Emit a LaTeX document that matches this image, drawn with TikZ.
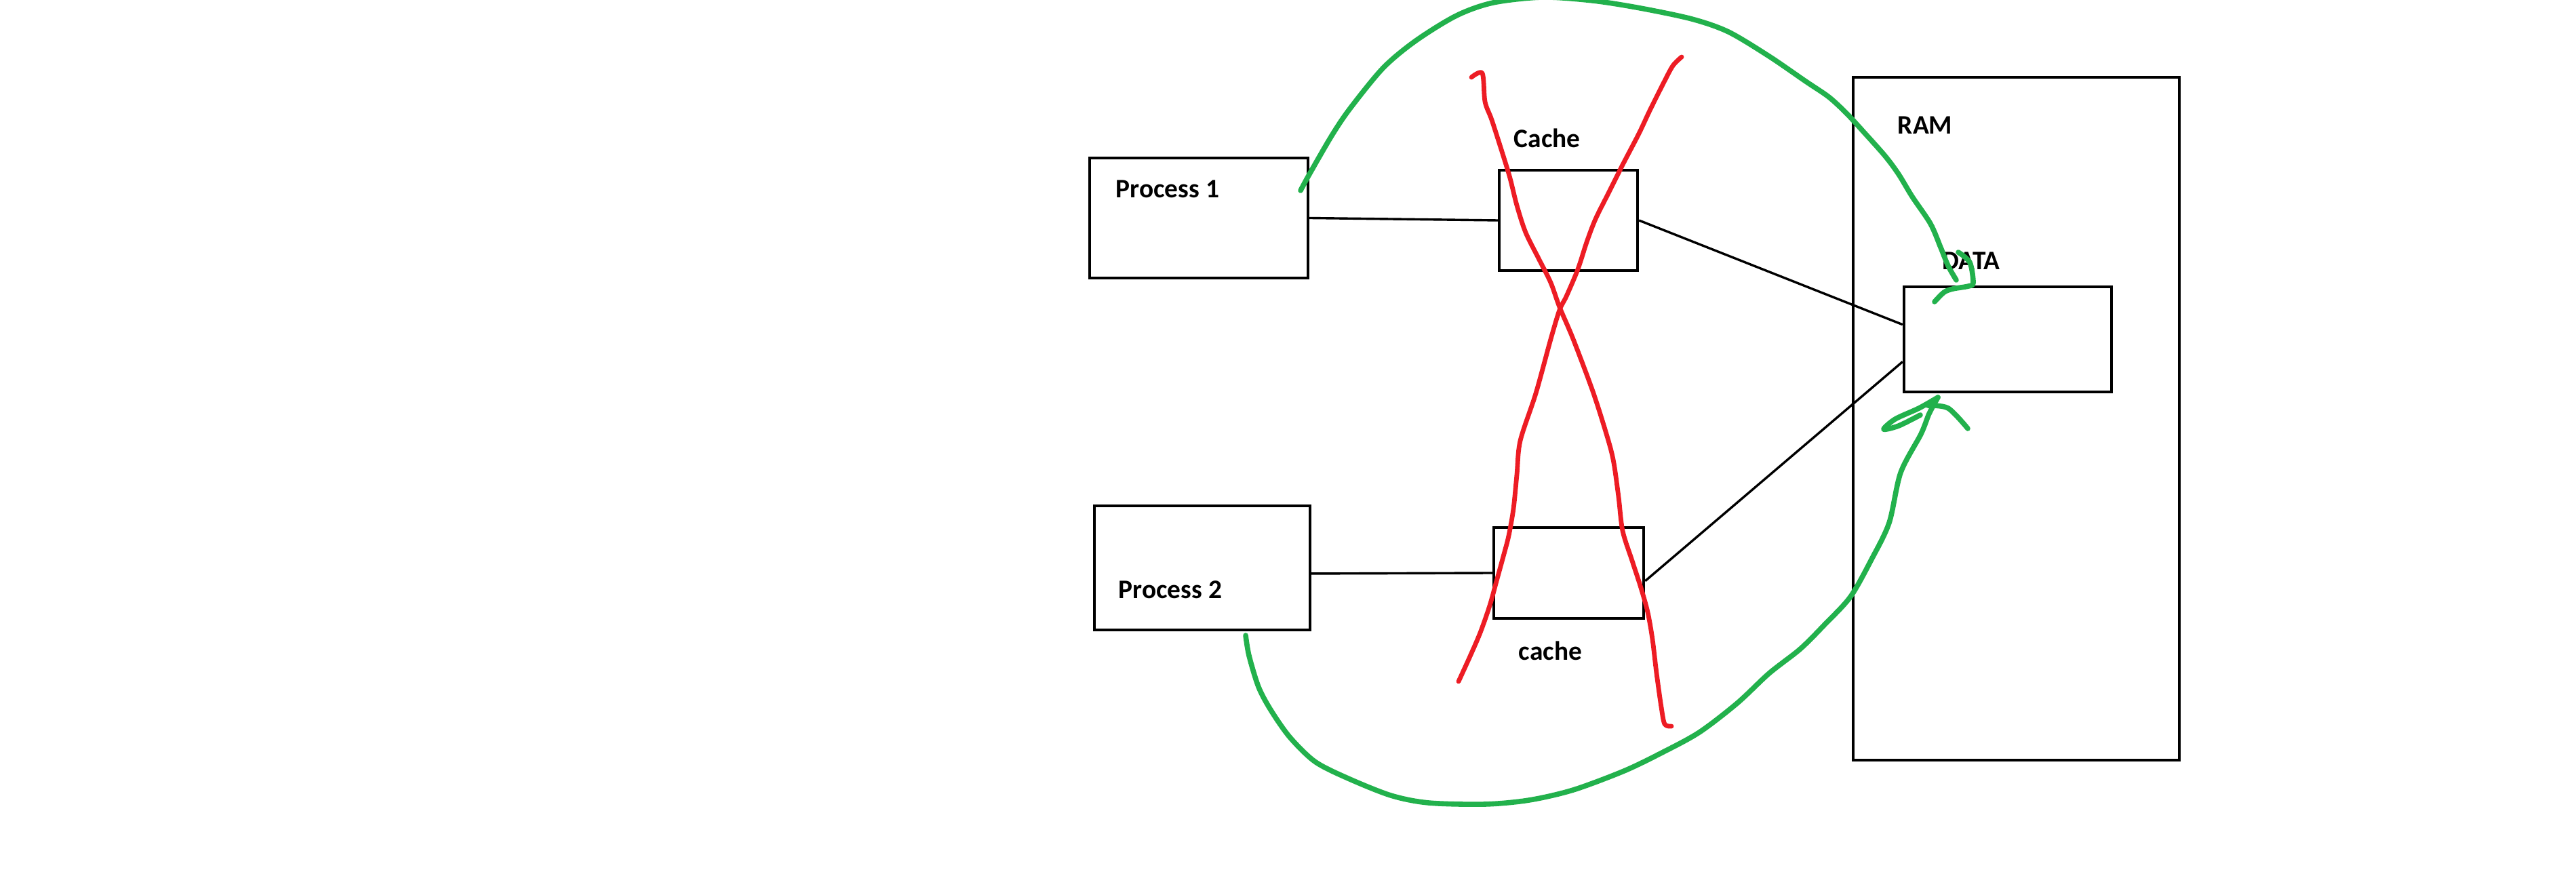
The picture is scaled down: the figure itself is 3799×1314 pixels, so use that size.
\documentclass[tikz,border=0pt]{standalone}
\usepackage{fontspec}
\setmainfont{Carlito}
\definecolor{inkgreen}{HTML}{22B14C}
\definecolor{inkred}{HTML}{ED1C24}
\begin{document}
\begin{tikzpicture}[x=0.25pt,y=-0.25pt,
  box/.style={draw=black, line width=1.1pt, rectangle, inner sep=0pt},
  lbl/.style={font=\bfseries\fontsize{9.85}{12}\selectfont, inner sep=0pt, anchor=base west},
  conn/.style={draw=black, line width=0.85pt},
  cross/.style={draw=inkred, line width=1.7pt, line cap=round, line join=round},
  stroke/.style={draw=inkgreen, line width=1.9pt, line cap=round, line join=round}]
\clip (0,0) rectangle (3799,1314);
\fill[white] (0,0) rectangle (3799,1314);
% boxes
\node[box, minimum width=80.5pt, minimum height=44.25pt] (p1) at (1768,321.5) {};
\node[box, minimum width=79.5pt, minimum height=45.75pt] (p2) at (1773,837.5) {};
\node[box, minimum width=51pt, minimum height=37pt] (c1) at (2313,325) {};
\node[box, minimum width=55.25pt, minimum height=33.5pt] (c2) at (2313.5,845) {};
\node[box, minimum width=120.25pt, minimum height=251.75pt] (ram) at (2973.5,617.5) {};
\node[box, minimum width=76.5pt, minimum height=38.75pt] (data) at (2961,500.5) {};
% labels
\node[lbl] (tp1) at (1645,292) {Process 1};
\node[lbl] (tp2) at (1649,882) {Process 2};
\node[lbl] (tc1) at (2232,218) {Cache};
\node[lbl] (tc2) at (2239,973) {cache};
\node[lbl] (tram) at (2798,198) {RAM};
\node[lbl] (tdata) at (2864,398) {DATA};
% connectors
\draw[conn] (p1.east) -- (c1.west);
\draw[conn] (p2.-3) -- (c2.west);
\draw[conn] (c1.east) -- (data.172);
\draw[conn] (c2.-6) -- (data.192);
% red cross
\draw[cross] plot[smooth, tension=0.5] coordinates {(2170,114) (2186,108) (2190,150) (2200,177) (2217,230) (2227,263) (2237,303) (2250,343) (2270,383) (2287,417) (2300,453) (2320,500) (2350,580) (2372,650) (2380,683) (2387,733) (2393,783) (2407,827) (2420,867) (2430,903) (2437,943) (2443,993) (2450,1043) (2455,1068) (2465,1071)};
\draw[cross] plot[smooth, tension=0.5] coordinates {(2480,84) (2467,97) (2453,123) (2433,163) (2417,197) (2393,243) (2373,283) (2353,323) (2340,357) (2327,397) (2310,437) (2300,457) (2287,500) (2265,580) (2242,650) (2237,700) (2232,750) (2225,790) (2218,817) (2207,857) (2197,893) (2183,933) (2167,970) (2151,1005)};
% green strokes
\draw[stroke] plot[smooth, tension=0.5] coordinates {(1918,281) (1931,257) (1964,200) (1991,160) (2040,100) (2088,60) (2148,23) (2202,4) (2275,-4) (2349,1) (2419,12) (2495,28) (2549,47) (2609,83) (2663,120) (2697,143) (2723,167) (2747,193) (2780,230) (2800,257) (2820,290) (2847,330) (2862,365) (2873,392) (2885,413)};
\draw[stroke] plot[smooth, tension=0.5] coordinates {(2888,372) (2905,387) (2910,417) (2903,422) (2880,426) (2867,431) (2853,445)};
\draw[stroke] plot[smooth, tension=0.5] coordinates {(1837,937) (1842,967) (1856,1013) (1874,1047) (1902,1087) (1939,1123) (1986,1147) (2051,1173) (2107,1184) (2190,1186) (2255,1180) (2320,1165) (2395,1137) (2451,1110) (2506,1080) (2562,1037) (2609,993) (2655,957) (2692,920) (2729,880) (2760,825) (2786,771) (2803,697) (2833,640) (2845,610) (2858,586)};
\draw[stroke] plot[smooth, tension=0.5] coordinates {(2858,586) (2830,602) (2795,618) (2778,633) (2800,628) (2832,612)};
\draw[stroke] plot[smooth, tension=0.5] coordinates {(2843,598) (2873,602) (2902,632)};
\end{tikzpicture}
\end{document}
